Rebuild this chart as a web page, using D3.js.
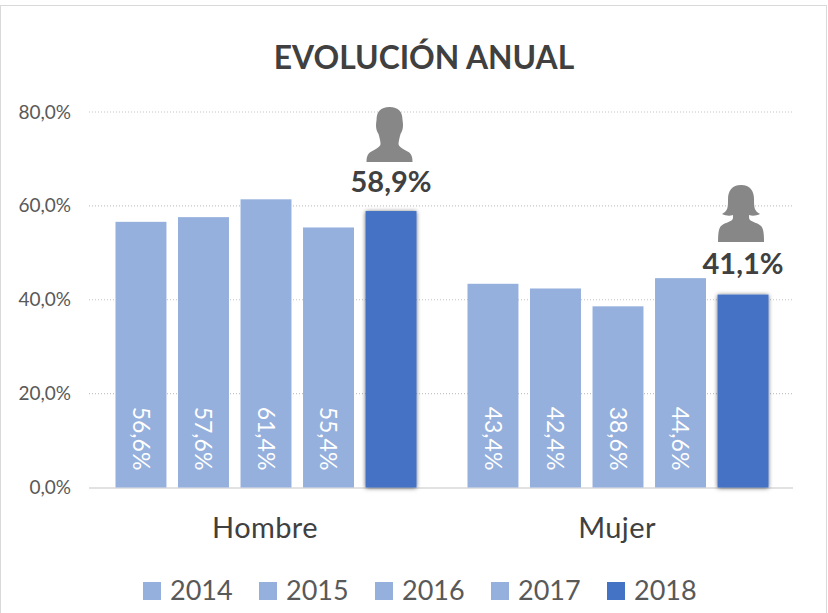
<!DOCTYPE html>
<html><head><meta charset="utf-8">
<script src="https://cdn.jsdelivr.net/npm/d3@7"></script>
<style>
html,body{margin:0;padding:0;background:#fff}
svg{display:block}
text{font-family:Lato,"Open Sans",sans-serif}
</style></head><body>
<svg id="c" width="828" height="613"></svg>
<script>
const categories = ["Hombre","Mujer"];
const years = ["2014","2015","2016","2017","2018"];
const hombre = [56.6,57.6,61.4,55.4,58.9];
const mujer = [43.4,42.4,38.6,44.6,41.1];
const yTicks = [0,20,40,60,80];
const title = "EVOLUCIÓN ANUAL";

const seriesByCat = [hombre, mujer];
const fmt = v => v.toFixed(1).replace(".",",") + "%";
const light = "#95b0dd", dark = "#4472c4";
const svg = d3.select("#c");

const defs = svg.append("defs");
const f = defs.append("filter").attr("id","sh").attr("x","-20%").attr("y","-5%").attr("width","140%").attr("height","110%");
f.append("feDropShadow").attr("dx",0).attr("dy",0.5).attr("stdDeviation",2).attr("flood-color","#000").attr("flood-opacity",0.6);

svg.append("rect").attr("x",0.5).attr("y",5.5).attr("width",826).attr("height",640)
  .attr("fill","#fff").attr("stroke","#d9d9d9");

svg.append("text").attr("x",424).attr("y",69).attr("text-anchor","middle")
  .attr("font-size",31.8).attr("font-weight",700).attr("fill","#404040").text(title);

const y = d3.scaleLinear().domain([0,80]).range([487.5,112]);
const x0 = d3.scaleBand().domain(categories).range([89,793]);
const x1 = d3.scaleBand().domain(years).range([26.5,327.5]).paddingInner(0.185);

const yAxis = d3.axisLeft(y).tickValues(yTicks).tickSize(0).tickPadding(0)
  .tickFormat(v => v.toFixed(1).replace(".",",") + "%");
const gy = svg.append("g").attr("transform","translate(71,0)").call(yAxis);
gy.select(".domain").remove();
gy.selectAll("text").attr("font-size",19).attr("fill","#595959").style("font-family","Lato");

svg.append("g").selectAll("line").data(yTicks.filter(d=>d>0)).join("line")
  .attr("x1",89).attr("x2",793).attr("y1",d=>y(d)).attr("y2",d=>y(d))
  .attr("stroke","#c4c4c4").attr("stroke-width",1.2).attr("stroke-dasharray","1 2");

// axis baseline sits beneath the bars' shadow
svg.append("line").attr("x1",89).attr("x2",793).attr("y1",488).attr("y2",488)
  .attr("stroke","#d9d9d9").attr("stroke-width",1.5);

const groups = svg.append("g").selectAll("g").data(categories).join("g")
  .attr("transform",d=>`translate(${x0(d)},0)`);

groups.each(function(cat,i){
  const g = d3.select(this);
  const vals = seriesByCat[i];
  years.forEach((yr,j)=>{
    const v = vals[j], last = j===years.length-1;
    g.append("rect").attr("x",x1(yr)).attr("width",x1.bandwidth())
      .attr("y",y(v)).attr("height",y(0)-y(v))
      .attr("fill",last?dark:light)
      .attr("filter",last?"url(#sh)":null);
    if(!last){
      const cx = x1(yr)+x1.bandwidth()/2;
      g.append("text").attr("transform",`translate(${cx},${y(0)-49}) rotate(90)`)
        .attr("text-anchor","middle").attr("dy","0.36em")
        .attr("font-size",23).attr("fill","#fff").text(fmt(v));
    }
  });
});

const xAxis = d3.axisBottom(x0).tickSize(0).tickPadding(0);
const gx = svg.append("g").attr("transform","translate(0,517)").call(xAxis);
gx.select(".domain").remove();
gx.selectAll("text").attr("font-size",29).attr("letter-spacing",0.4).attr("fill","#404040").style("font-family","Lato").attr("dy","0.72em");

// highlight labels and pictograms for the last year (origin: icon bottom centre)
const manPath = "M0,-55 C-9,-55 -13,-50 -13,-42 C-14,-36 -13.500,-32 -11,-28 C-10,-24 -9,-21 -9,-18 C-9,-15 -14,-13 -19,-10 C-22,-8 -23,-5 -23,0 L23,0 C23,-5 22,-8 19,-10 C14,-13 9,-15 9,-18 C9,-21 10,-24 11,-28 C13.500,-32 14,-36 13,-42 C13,-50 9,-55 0,-55 Z";
const womanPath = "M0,-57 C-9,-57 -13,-51 -13,-43 C-13,-35 -13,-31 -19,-28 C-15,-26 -11,-26 -8,-27 C-8,-24 -8,-23 -9,-22 C-11,-20 -17,-19 -20,-16 C-22,-14 -23,-10 -23,0 L23,0 C23,-10 22,-14 20,-16 C17,-19 11,-20 9,-22 C8,-23 8,-24 8,-27 C11,-26 15,-26 19,-28 C13,-31 13,-35 13,-43 C13,-51 9,-57 0,-57 Z";

const lastYear = years[years.length-1];
const icons = [manPath, womanPath];
const iconBottom = [162, 242];
const iconDx = [-1.5, -2];
const labelGap = [19, 21];
categories.forEach((cat,i)=>{
  const v = seriesByCat[i][years.length-1];
  const cx = x0(cat)+x1(lastYear)+x1.bandwidth()/2;
  svg.append("path").attr("d",icons[i]).attr("fill","#878787")
     .attr("transform",`translate(${cx+iconDx[i]},${iconBottom[i]})`);
  svg.append("text").attr("x",cx).attr("y",y(v)-labelGap[i]).attr("text-anchor","middle")
     .attr("font-size",29).attr("font-weight",700).attr("fill","#404040").text(fmt(v));
});

// legend
const legendX = d3.scaleBand().domain(years).range([143,723]);
const leg = svg.append("g").selectAll("g").data(years).join("g")
  .attr("transform",d=>`translate(${legendX(d)},0)`);
leg.append("rect").attr("y",582).attr("width",18).attr("height",18)
  .attr("fill",(d,i)=>i===years.length-1?dark:light);
leg.append("text").attr("x",27).attr("y",600).attr("font-size",27).attr("fill","#595959").text(d=>d);
</script>
</body></html>
